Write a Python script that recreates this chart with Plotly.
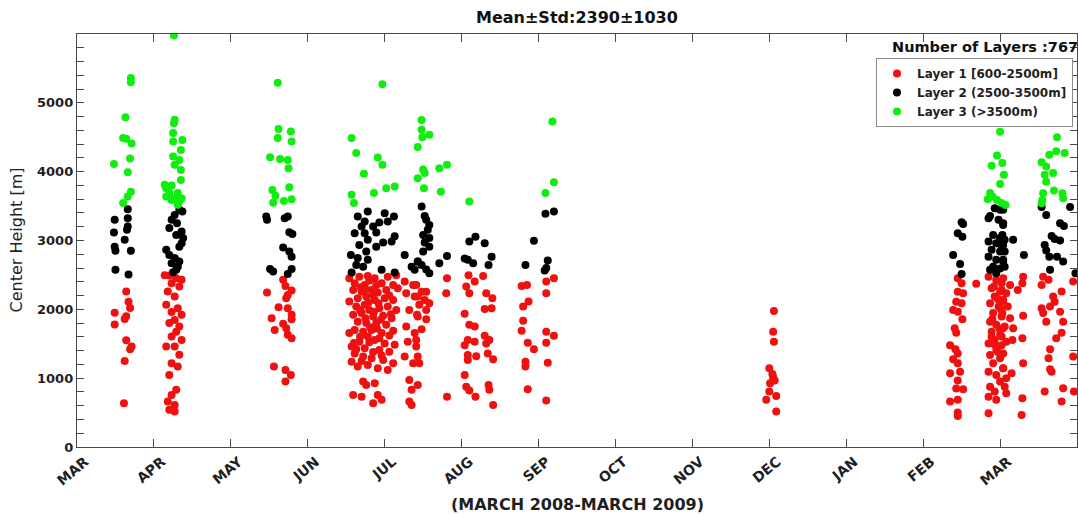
import plotly.graph_objects as go

# Cloud-layer centre heights, March 2008 - March 2009.
# month = months elapsed since 1 March 2008, height in metres.
month_labels = ["MAR", "APR", "MAY", "JUN", "JUL", "AUG", "SEP",
                "OCT", "NOV", "DEC", "JAN", "FEB", "MAR"]

layer1_points = [
    # late March
    (0.64, 2260), (0.67, 2110), (0.69, 2020), (0.49, 1950), (0.64, 1900), (0.62, 1860),
    (0.49, 1780), (0.64, 1550), (0.71, 1460), (0.69, 1420), (0.62, 1250), (0.61, 635),
    # April
    (1.14, 2495), (1.20, 2490), (1.29, 2450), (1.36, 2430), (1.23, 2380), (1.33, 2330),
    (1.18, 2260), (1.27, 2185), (1.16, 2065), (1.31, 2015), (1.23, 1960), (1.36, 1920),
    (1.27, 1845), (1.20, 1800), (1.33, 1750), (1.29, 1675), (1.23, 1605), (1.36, 1555),
    (1.16, 1460), (1.27, 1460), (1.33, 1340), (1.23, 1215), (1.31, 1170), (1.20, 1045),
    (1.29, 830), (1.23, 755), (1.18, 660), (1.27, 610), (1.20, 540), (1.27, 515),
    # late May
    (2.68, 2430), (2.71, 2340), (2.47, 2245), (2.79, 2275), (2.74, 2210), (2.72, 2160),
    (2.62, 2030), (2.74, 2015), (2.79, 1920), (2.53, 1870), (2.79, 1855), (2.68, 1790),
    (2.57, 1700), (2.72, 1725), (2.74, 1630), (2.79, 1580), (2.56, 1170), (2.71, 1120),
    (2.78, 1045), (2.71, 950),
    # late June - mid July
    (3.54, 2450), (3.67, 2475), (3.78, 2485), (3.87, 2450), (4.04, 2475), (4.15, 2495),
    (3.61, 2380), (3.74, 2355), (3.96, 2380), (4.11, 2355), (4.26, 2405), (4.37, 2355),
    (3.59, 2280), (3.70, 2260), (3.83, 2280), (3.91, 2245), (4.02, 2280), (4.17, 2305),
    (3.65, 2160), (3.76, 2185), (3.87, 2135), (4.00, 2160), (4.11, 2135), (4.28, 2235),
    (4.39, 2185), (3.54, 2115), (3.63, 2040), (3.74, 2065), (3.80, 1990), (3.93, 2015),
    (4.04, 2040), (4.15, 1990), (3.59, 1920), (3.70, 1945), (3.85, 1895), (3.98, 1905),
    (4.09, 1870), (4.32, 1990), (4.42, 1920), (3.65, 1820), (3.76, 1800), (3.89, 1805),
    (4.02, 1775), (3.61, 1700), (3.72, 1675), (3.83, 1700), (3.96, 1655), (4.11, 1690),
    (3.54, 1655), (4.28, 1750), (4.39, 1655), (3.78, 1605), (3.67, 1530), (3.87, 1555),
    (4.00, 1505), (4.13, 1485), (3.57, 1460), (3.74, 1435), (3.93, 1410), (4.30, 1530),
    (4.41, 1460), (4.06, 1385), (3.61, 1360), (3.72, 1315), (3.83, 1290), (3.98, 1265),
    (4.11, 1215), (3.57, 1240), (3.65, 1170), (3.78, 1190), (3.91, 1145), (4.26, 1315),
    (4.37, 1215), (4.04, 1120), (3.72, 950), (3.76, 900), (3.87, 925), (3.59, 755),
    (3.70, 730), (3.91, 755), (3.96, 685), (3.85, 635), (4.32, 975), (4.35, 830),
    (4.32, 660), (4.35, 610), (3.80, 2420), (3.69, 2320), (3.85, 2210), (3.79, 2100),
    (3.92, 2090), (3.68, 1990), (3.86, 1960), (3.75, 1870), (3.95, 1850), (3.81, 1740),
    (3.90, 1720), (3.68, 1600), (3.93, 1580), (3.80, 1520), (3.63, 1420), (3.85, 1380),
    (3.70, 1250), (3.96, 1330), (3.60, 1510), (4.06, 1620), (4.08, 1930), (4.06, 2200),
    (3.75, 2290), (3.89, 2350),
    (4.41, 2355), (4.48, 2255), (4.54, 2255), (4.43, 2185), (4.52, 2135), (4.58, 2090),
    (4.45, 2065), (4.54, 1990), (4.43, 1895), (4.54, 1855), (4.48, 1710), (4.41, 1555),
    (4.43, 1315), (4.45, 1215), (4.43, 900),
    # late July - mid August
    (4.81, 2450), (4.80, 2235), (4.81, 730),
    (5.09, 2495), (5.17, 2405), (5.28, 2485), (5.06, 2330), (5.10, 2235), (5.32, 2235),
    (5.40, 2160), (5.30, 2005), (5.39, 2015), (5.04, 1935), (5.10, 1775), (5.17, 1750),
    (5.30, 1615), (5.08, 1555), (5.17, 1530), (5.36, 1555), (5.04, 1480), (5.32, 1505),
    (5.08, 1335), (5.19, 1320), (5.34, 1360), (5.08, 1265), (5.41, 1275), (5.04, 1045),
    (5.06, 875), (5.35, 900), (5.10, 820), (5.18, 730), (5.36, 830), (5.41, 610),
    # September
    (5.78, 2340), (5.85, 2355), (6.10, 2405), (6.20, 2450), (5.87, 2115), (5.80, 2040),
    (6.10, 2235), (5.80, 1835), (5.78, 1690), (5.86, 1515), (5.94, 1420), (6.10, 1675),
    (6.20, 1615), (6.10, 1515), (5.83, 1240), (5.83, 1170), (6.12, 1225), (5.86, 840),
    (6.10, 675),
    # December
    (9.06, 1975), (9.05, 1675), (9.06, 1530), (9.00, 1145), (9.05, 1015), (9.07, 965),
    (9.01, 925), (9.00, 805), (9.09, 740), (8.96, 685), (9.09, 515), (9.04, 1060),
    # mid February
    (11.45, 2450), (11.50, 2380), (11.69, 2370), (11.45, 2255), (11.52, 2235), (11.43, 2110),
    (11.50, 2090), (11.39, 1990), (11.45, 1965), (11.51, 1855), (11.41, 1725), (11.43, 1660),
    (11.35, 1480), (11.42, 1420), (11.45, 1360), (11.39, 1275), (11.45, 1215), (11.35, 1070),
    (11.48, 1095), (11.45, 965), (11.43, 850), (11.52, 840), (11.35, 660), (11.45, 685),
    (11.45, 500), (11.45, 450),
    # early March 2009
    (11.85, 2475), (11.95, 2425), (12.02, 2380), (11.89, 2305), (12.00, 2260), (11.93, 2185),
    (12.04, 2135), (11.87, 2090), (11.98, 2040), (11.91, 1945), (12.02, 1895), (11.87, 1820),
    (11.95, 1775), (12.04, 1725), (11.89, 1675), (12.00, 1630), (11.93, 1555), (11.85, 1505),
    (12.02, 1480), (11.95, 1410), (11.87, 1335), (12.00, 1290), (11.91, 1215), (12.04, 1145),
    (11.85, 1095), (11.95, 1045), (12.00, 950), (11.87, 875), (11.93, 805), (11.85, 730),
    (11.95, 685), (11.85, 490), (11.92, 2330), (11.97, 2150), (11.90, 1860), (11.99, 1720),
    (11.93, 1490), (11.97, 1380), (11.89, 1600), (12.01, 2000),
    (12.04, 2450), (12.13, 2355), (12.23, 2280), (12.02, 2280), (12.08, 2235), (12.30, 2475),
    (12.29, 2380), (12.04, 2110), (12.10, 2040), (12.03, 1945), (12.13, 1870), (12.06, 1750),
    (12.17, 1725), (12.02, 1605), (12.08, 1530), (12.04, 1360), (12.16, 1555), (12.29, 1580),
    (12.30, 1215), (12.04, 1145), (12.15, 1070), (12.08, 1000), (12.30, 1905), (12.29, 710),
    (12.28, 465), (12.06, 875), (12.08, 780),
    # late March 2009
    (12.56, 2475), (12.63, 2430), (12.54, 2355), (12.80, 2260), (12.69, 2185), (12.54, 2015),
    (12.71, 2110), (12.65, 2040), (12.78, 1965), (12.56, 1945), (12.82, 1820), (12.60, 1820),
    (12.80, 1660), (12.73, 1580), (12.65, 1420), (12.63, 1290), (12.65, 1130), (12.67, 1095),
    (12.82, 855), (12.58, 805), (12.80, 660), (12.95, 2405), (12.95, 1315), (12.96, 805),
]

layer2_points = [
    (0.49, 3300), (0.66, 3325), (0.66, 3455), (0.66, 3205), (0.65, 3155), (0.48, 3115),
    (0.62, 3010), (0.49, 2910), (0.50, 2850), (0.70, 2850), (0.50, 2575), (0.67, 2505),
    (1.33, 3445), (1.37, 3420), (1.27, 3370), (1.23, 3300), (1.30, 3250), (1.20, 3180),
    (1.36, 3130), (1.29, 3080), (1.38, 3035), (1.36, 2960), (1.33, 2910), (1.16, 2865),
    (1.20, 2790), (1.27, 2745), (1.33, 2695), (1.23, 2670), (1.31, 2620), (1.29, 2575),
    (1.25, 2540),
    (2.46, 3350), (2.47, 3300), (2.74, 3350), (2.70, 3325), (2.76, 3120), (2.80, 3095),
    (2.68, 2900), (2.76, 2840), (2.79, 2765), (2.51, 2585), (2.55, 2550), (2.79, 2585),
    (2.74, 2515),
    (3.78, 3420), (3.65, 3350), (4.00, 3395), (4.12, 3350), (3.74, 3275), (3.93, 3260),
    (4.04, 3275), (3.70, 3205), (3.85, 3205), (3.61, 3105), (3.74, 3105), (3.89, 3115),
    (4.13, 3060), (3.78, 3010), (3.98, 2970), (4.09, 2985), (3.67, 2935), (3.89, 2910),
    (3.76, 2840), (3.56, 2790), (4.26, 2790), (3.65, 2745), (3.78, 2720), (4.43, 2695),
    (3.63, 2645), (3.72, 2620), (4.35, 2620), (3.96, 2575), (3.57, 2535), (4.13, 2535),
    (4.39, 2575),
    (4.48, 3495), (4.52, 3355), (4.54, 3300), (4.58, 3225), (4.56, 3155), (4.50, 3080),
    (4.58, 3035), (4.52, 2970), (4.58, 2910), (4.50, 2840), (4.81, 2775), (4.43, 2695),
    (4.48, 2645), (4.54, 2580), (4.58, 2525), (4.71, 2670), (5.18, 3055), (5.10, 2985),
    (5.30, 2960), (5.04, 2740), (5.08, 2720), (5.39, 2765), (5.15, 2670), (5.35, 2645),
    (6.09, 3390), (6.20, 3420), (5.94, 2995), (5.83, 2645), (6.12, 2710), (6.10, 2600),
    (6.08, 2565),
    (11.50, 3265), (11.52, 3240), (11.45, 3105), (11.51, 3055), (11.39, 2790), (11.48, 2660),
    (11.50, 2515),
    (11.93, 3470), (12.00, 3445), (11.87, 3355), (11.85, 3325), (11.98, 3300), (12.04, 3225),
    (11.91, 3080), (12.00, 3035), (11.85, 2985), (11.95, 2960), (12.04, 2935), (11.89, 2865),
    (12.00, 2840), (11.85, 2765), (11.95, 2720), (12.04, 2695), (11.91, 2620), (12.00, 2595),
    (11.87, 2575), (11.95, 2525), (12.04, 3445), (12.04, 3250), (12.03, 3080), (12.06, 3010),
    (12.17, 3010), (12.02, 2910), (12.06, 2840), (12.04, 2720), (12.06, 2620), (12.31, 2790),
    (12.54, 3485), (12.60, 3370), (12.78, 3250), (12.83, 3210), (12.67, 3065), (12.71, 3020),
    (12.78, 3000), (12.58, 2935), (12.60, 2855), (12.64, 2765), (12.74, 2765), (12.82, 2695),
    (12.65, 2575), (12.91, 3485), (12.98, 2525),
]

layer3_points = [
    (0.70, 5360), (0.70, 5300), (0.63, 4790), (0.60, 4490), (0.64, 4480), (0.71, 4410),
    (0.69, 4190), (0.48, 4110), (0.66, 3990), (0.70, 3710), (0.66, 3640), (0.60, 3545),
    (1.26, 5980), (1.27, 4755), (1.26, 4705), (1.25, 4560), (1.37, 4460), (1.25, 4440),
    (1.35, 4315), (1.25, 4220), (1.33, 4170), (1.27, 4100), (1.35, 4025), (1.35, 3880),
    (1.14, 3810), (1.23, 3800), (1.16, 3760), (1.20, 3690), (1.31, 3690), (1.27, 3615),
    (1.33, 3565), (1.23, 3590), (1.31, 3520), (1.16, 3640), (1.36, 3615),
    (2.61, 5290), (2.62, 4620), (2.78, 4585), (2.61, 4490), (2.79, 4440), (2.51, 4210),
    (2.64, 4185), (2.74, 4170), (2.75, 4050), (2.76, 3775), (2.54, 3735), (2.58, 3650),
    (2.79, 3600), (2.69, 3575), (2.55, 3550),
    (3.97, 5270), (3.57, 4490), (3.63, 4270), (3.91, 4205), (3.97, 4100), (3.73, 3970),
    (4.02, 3760), (4.13, 3785), (3.86, 3690), (3.57, 3665), (3.60, 3545),
    (4.48, 4750), (4.48, 4610), (4.49, 4500), (4.58, 4535), (4.43, 4360), (4.50, 4030),
    (4.52, 3980), (4.43, 3905), (4.71, 4050), (4.81, 4100), (4.51, 3760), (4.73, 3710),
    (5.10, 3565),
    (6.18, 4730), (6.20, 3845), (6.09, 3690),
    (12.00, 4580), (11.96, 4235), (12.03, 4125), (11.89, 4085), (12.05, 3955), (12.00, 3820),
    (11.87, 3690), (11.90, 3640), (11.84, 3600), (11.96, 3590), (12.02, 3545), (12.07, 3515),
    (12.74, 4500), (12.73, 4295), (12.84, 4270), (12.64, 4245), (12.54, 4135), (12.60, 4075),
    (12.69, 3980), (12.58, 3955), (12.60, 3855), (12.70, 3725), (12.81, 3685), (12.82, 3615),
    (12.56, 3685), (12.55, 3590), (12.54, 3540),
]

layer_names = ["Layer 1 [600-2500m]", "Layer 2 (2500-3500m]", "Layer 3 (>3500m)"]
layer_colors = ["#f01010", "#000000", "#10ee10"]

FONT = "DejaVu Sans"
INK = "#1f1f1f"
AXIS = "#4a4a4a"

fig = go.Figure()
for pts, name, color in zip([layer1_points, layer2_points, layer3_points], layer_names, layer_colors):
    xs = [p[0] for p in pts]
    ys = [p[1] for p in pts]
    fig.add_trace(go.Scatter(
        x=xs, y=ys, mode="markers", name=name,
        marker=dict(size=8, color=color, line=dict(width=0)),
    ))

fig.update_layout(
    width=1078, height=515,
    margin=dict(l=77, r=1, t=34, b=68),
    paper_bgcolor="white", plot_bgcolor="white",
    font=dict(family=FONT, size=13, color=INK),
    showlegend=True,
    legend=dict(
        x=0.996, xanchor="right", y=0.942, yanchor="top",
        bgcolor="white", bordercolor="#8a8a8a", borderwidth=1,
        font=dict(family=FONT, size=12, color=INK, weight="bold"),
        itemsizing="trace", tracegroupgap=0,
    ),
)

fig.update_xaxes(
    range=[0, 13], tickmode="array",
    tickvals=list(range(len(month_labels))), ticktext=month_labels,
    tickangle=-40, ticks="inside", ticklen=8, tickwidth=1.2, tickcolor=AXIS,
    ticklabelshift=8,
    showline=True, linecolor=AXIS, linewidth=1.4, mirror="allticks",
    showgrid=False, zeroline=False,
    tickfont=dict(family=FONT, size=14, color=INK, weight="bold"),
    minor=dict(tickvals=[13], ticks="inside", ticklen=8, tickcolor=AXIS, tickwidth=1.2),
)
fig.update_yaxes(
    range=[0, 6000], tickmode="array",
    tickvals=[0, 1000, 2000, 3000, 4000, 5000],
    ticks="inside", ticklen=7, tickwidth=1.2, tickcolor=AXIS,
    showline=True, linecolor=AXIS, linewidth=1.4, mirror="allticks",
    showgrid=False, zeroline=False,
    tickfont=dict(family=FONT, size=13, color=INK, weight="bold"),
    minor=dict(tickvals=list(range(0, 6001, 200)), ticks="inside", ticklen=7,
               tickcolor=AXIS, tickwidth=1.2),
)

fig.add_annotation(text="Mean\u00b1Std:2390\u00b11030", xref="paper", yref="paper",
                   x=0.5, y=1.041, xanchor="center", yanchor="middle", showarrow=False,
                   font=dict(family=FONT, size=16, color="#111111", weight="bold"))
fig.add_annotation(text="Number of Layers :767", xref="paper", yref="paper",
                   x=1.003, y=0.969, xanchor="right", yanchor="middle", showarrow=False,
                   font=dict(family=FONT, size=14.5, color="#111111", weight="bold"))
fig.add_annotation(text="(MARCH 2008-MARCH 2009)", xref="paper", yref="paper",
                   x=0.5, y=-0.1404, xanchor="center", yanchor="middle", showarrow=False,
                   font=dict(family=FONT, size=16, color=INK, weight="bold"))
fig.add_annotation(text="Center Height [m]", xref="paper", yref="paper",
                   x=-0.061, y=0.5, xanchor="center", yanchor="middle", textangle=-90,
                   showarrow=False, font=dict(family=FONT, size=16, color=INK))

fig.write_html("out.html")
